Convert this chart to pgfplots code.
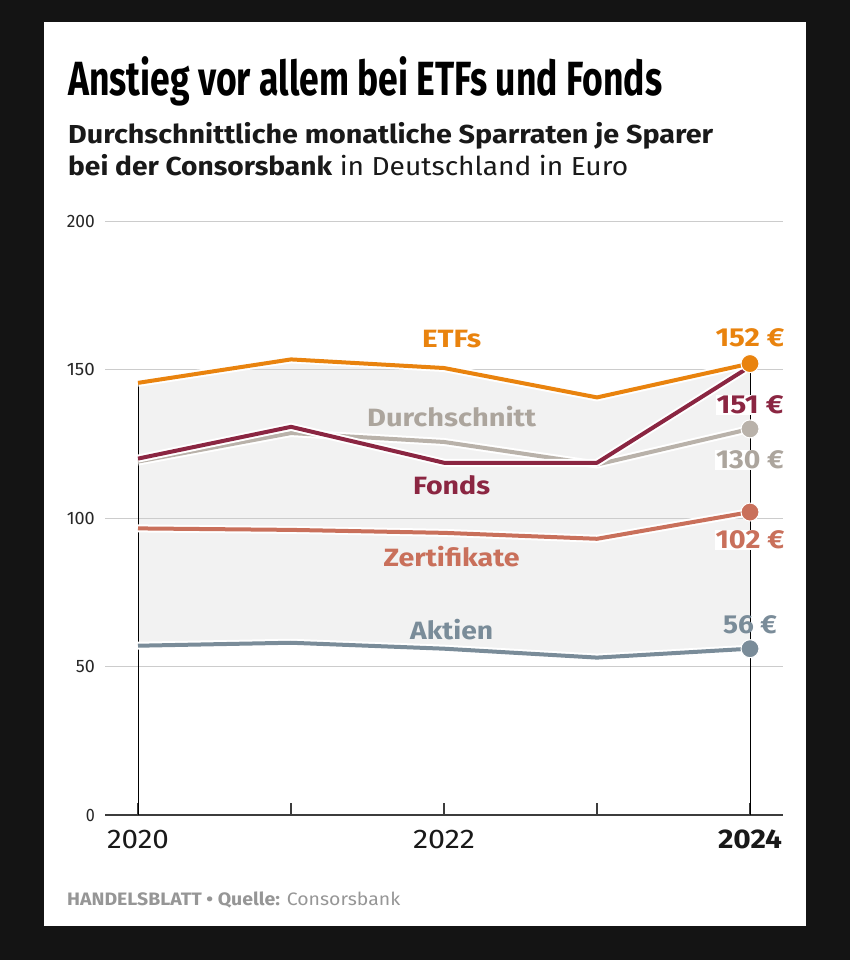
\documentclass[border=0pt]{standalone}
\usepackage{pgfplots}
\pgfplotsset{compat=1.18}
\usepackage{graphicx}
\usepackage{fontspec}
\setmainfont{Fira Sans}
\newcommand{\fs}[1]{\fontsize{#1bp}{#1bp}\selectfont}
\newcommand{\rw}[2]{\resizebox{#1bp}{\height}{#2}}
\definecolor{bgdark}{RGB}{20,20,20}
\definecolor{etf}{RGB}{233,131,14}
\definecolor{fonds}{RGB}{139,38,66}
\definecolor{durch}{RGB}{185,178,170}
\definecolor{durchtext}{RGB}{172,165,157}
\definecolor{zert}{RGB}{201,112,91}
\definecolor{aktien}{RGB}{122,140,153}
\definecolor{band}{RGB}{242,242,242}
\definecolor{gridc}{RGB}{204,204,204}
\definecolor{axisgray}{RGB}{60,60,60}
\definecolor{footgray}{RGB}{150,150,150}
\begin{document}
\begin{tikzpicture}
\fill[bgdark] (0,0) rectangle (850bp,-960bp);
\fill[white] (44bp,-22bp) rectangle (806bp,-926bp);
\node[anchor=base west, inner sep=0pt] at (68bp,-95bp) {\resizebox{594bp}{\height}{\fs{48}\bfseries Anstieg vor allem bei ETFs und Fonds}};
\node[anchor=base west, inner sep=0pt, text=black!90] at (68bp,-143bp) {\resizebox{645bp}{\height}{\fs{26}\bfseries Durchschnittliche monatliche Sparraten je Sparer}};
\node[anchor=base west, inner sep=0pt, text=black!90] at (68bp,-175bp) {\resizebox{560bp}{\height}{\fs{26}\textbf{bei der Consorsbank} in Deutschland in Euro}};
\node[anchor=base west, inner sep=0pt, text=footgray] at (67bp,-905bp) {\resizebox{333bp}{\height}{\fs{18}\textbf{HANDELSBLATT • Quelle:} Consorsbank}};
\begin{axis}[at={(105bp,-815bp)}, anchor=south west, scale only axis,
  width=678bp, height=594bp,
  xmin=2019.7843, xmax=2024.2157, ymin=0, ymax=200, clip=false,
  axis x line*=bottom, axis y line*=left,
  y axis line style={draw=none}, ytick={0,50,100,150,200}, ytick style={draw=none},
  yticklabels={\rw{9}{0},\rw{19}{50},\rw{28}{100},\rw{28}{150},\rw{28}{200}},
  xtick={2020,2021,2022,2023,2024}, xticklabels={\rw{62}{2020},,\rw{62}{2022},,\rw{64}{\textbf{2024}}},
  x axis line style={draw=axisgray, line width=1.5bp, -},
  xtick style={draw=axisgray, line width=1.2bp},
  tick align=inside, major tick length=12bp,
  yticklabel style={font=\fs{18}, text=black!85, anchor=east, inner sep=0pt, xshift=-10bp},
  xticklabel style={font=\fs{27}, text=black!90, anchor=base, inner sep=0pt, yshift=-33bp},
]
\addplot[fill=band, draw=none] coordinates {(2020,146)(2021,154)(2022,151)(2023,141)(2024,152)(2024,56)(2023,53)(2022,56)(2021,58)(2020,57)} -- cycle;
\addplot[gridc, line width=1bp] coordinates {(2019.7843,50)(2024.2157,50)};
\addplot[gridc, line width=1bp] coordinates {(2019.7843,100)(2024.2157,100)};
\addplot[gridc, line width=1bp] coordinates {(2019.7843,150)(2024.2157,150)};
\addplot[gridc, line width=1bp] coordinates {(2019.7843,200)(2024.2157,200)};
\addplot[black, line width=1bp] coordinates {(2020,0)(2020,146)};
\addplot[black, line width=1bp] coordinates {(2024,0)(2024,152)};
% Aktien
\addplot[white, line width=8bp, line join=round] coordinates {(2020,57)(2021,58)(2022,56)(2023,53)(2024,56)};
\addplot[aktien, line width=4bp, line join=round] coordinates {(2020,57)(2021,58)(2022,56)(2023,53)(2024,56)};
% Zertifikate
\addplot[white, line width=8bp, line join=round] coordinates {(2020,96.5)(2021,96)(2022,95)(2023,93)(2024,102)};
\addplot[zert, line width=4bp, line join=round] coordinates {(2020,96.5)(2021,96)(2022,95)(2023,93)(2024,102)};
% Durchschnitt
\addplot[white, line width=8bp, line join=round] coordinates {(2020,119)(2021,128.6)(2022,125.6)(2023,118)(2024,130)};
\addplot[durch, line width=4bp, line join=round] coordinates {(2020,119)(2021,128.6)(2022,125.6)(2023,118)(2024,130)};
% Fonds
\addplot[white, line width=8bp, line join=round] coordinates {(2020,120)(2021,130.7)(2022,118.6)(2023,118.6)(2024,151)};
\addplot[fonds, line width=4bp, line join=round] coordinates {(2020,120)(2021,130.7)(2022,118.6)(2023,118.6)(2024,151)};
% ETFs
\addplot[white, line width=8bp, line join=round] coordinates {(2020,145.5)(2021,153.4)(2022,150.5)(2023,140.6)(2024,152)};
\addplot[etf, line width=4bp, line join=round] coordinates {(2020,145.5)(2021,153.4)(2022,150.5)(2023,140.6)(2024,152)};
% markers
\addplot[only marks, mark=*, mark size=9bp, color=aktien, mark options={draw=white, line width=1bp}] coordinates {(2024,56)};
\addplot[only marks, mark=*, mark size=9bp, color=zert, mark options={draw=white, line width=1bp}] coordinates {(2024,102)};
\addplot[only marks, mark=*, mark size=9bp, color=durch, mark options={draw=white, line width=1bp}] coordinates {(2024,130)};
\addplot[only marks, mark=*, mark size=9bp, color=etf, mark options={draw=white, line width=1bp}] coordinates {(2024,152)};
% series labels
\node[font=\fs{25}\bfseries, text=etf] at (axis cs:2022.05,160.3) {\rw{59}{ETFs}};
\node[font=\fs{25}\bfseries, text=durchtext] at (axis cs:2022.05,134) {\rw{169}{Durchschnitt}};
\node[font=\fs{25}\bfseries, text=fonds] at (axis cs:2022.05,111) {\rw{77}{Fonds}};
\node[font=\fs{25}\bfseries, text=zert] at (axis cs:2022.05,86.9) {\rw{136}{Zertifikate}};
\node[font=\fs{25}\bfseries, text=aktien] at (axis cs:2022.05,62.6) {\rw{83}{Aktien}};
% value labels
\node[font=\fs{26}\bfseries, text=etf] at (axis cs:2024.0,160.6) {\rw{69}{152 €}};
\node[font=\fs{26}\bfseries, text=fonds, fill=white, inner sep=1bp] at (axis cs:2024.0,138) {\rw{67}{151 €}};
\node[font=\fs{26}\bfseries, text=durchtext, fill=white, inner sep=1bp] at (axis cs:2024.0,119.5) {\rw{68}{130 €}};
\node[font=\fs{26}\bfseries, text=zert, fill=white, inner sep=1bp] at (axis cs:2024.0,92.6) {\rw{69}{102 €}};
\node[font=\fs{26}\bfseries, text=aktien] at (axis cs:2024.0,64) {\rw{54}{56 €}};
\end{axis}
\end{tikzpicture}
\end{document}
